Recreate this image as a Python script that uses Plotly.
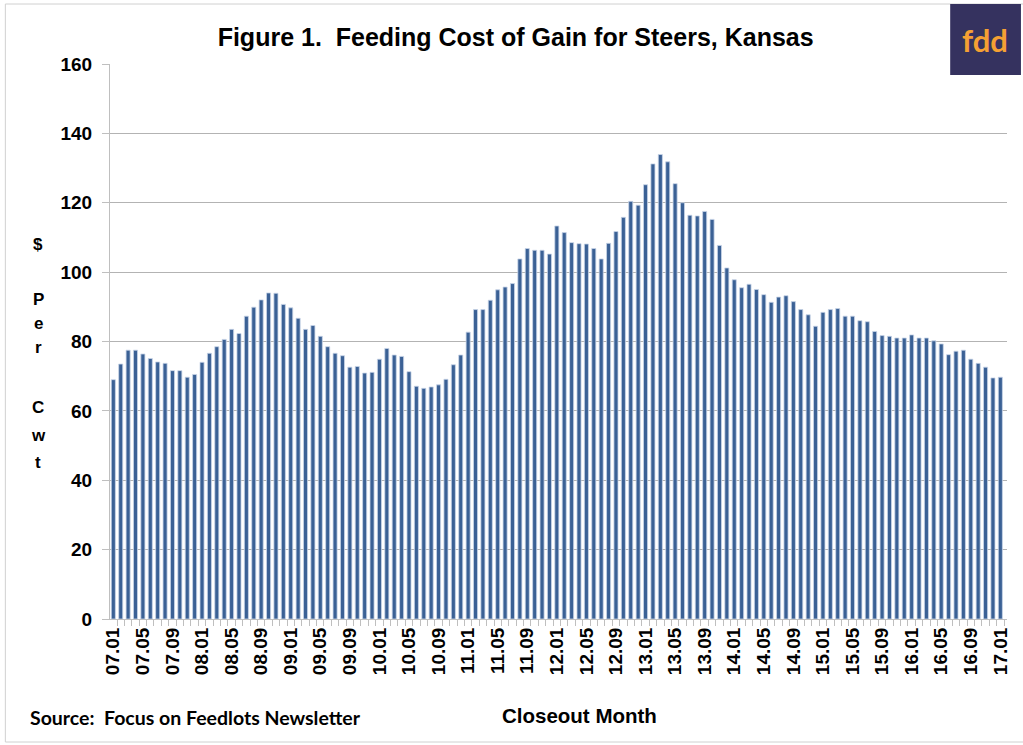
import plotly.graph_objects as go

# Closeout months 07.01 .. 17.01 (monthly)
months = [f"{y:02d}.{m:02d}" for y in range(7, 18) for m in range(1, 13)][:121]

cost_of_gain = [
    69.0, 73.5, 77.5, 77.5, 76.4, 75.1, 74.1, 73.7, 71.6, 71.6, 69.7, 70.5,
    74.0, 76.6, 78.5, 80.6, 83.5, 82.3, 87.3, 89.9, 92.0, 94.0, 93.9, 90.7,
    89.7, 86.7, 83.5, 84.6, 81.5, 78.5, 76.6, 75.9, 72.6, 72.8, 70.9, 71.1,
    74.9, 78.0, 76.1, 75.7, 71.3, 67.1, 66.5, 66.9, 67.5, 69.1, 73.3, 76.1,
    82.7, 89.2, 89.2, 91.9, 94.9, 95.7, 96.7, 103.8, 106.8, 106.3, 106.3, 105.2,
    113.3, 111.4, 108.5, 108.2, 108.1, 106.8, 103.8, 108.3, 111.7, 115.8, 120.4, 119.3,
    125.2, 131.2, 133.9, 131.8, 125.5, 120.0, 116.4, 116.2, 117.5, 115.2, 107.7, 101.2,
    97.8, 95.5, 96.5, 95.0, 93.5, 91.3, 92.8, 93.2, 91.5, 89.2, 87.7, 84.4,
    88.4, 89.2, 89.5, 87.3, 87.3, 86.0, 85.7, 82.9, 81.7, 81.5, 81.0, 81.0,
    81.9, 81.0, 81.0, 80.2, 79.3, 76.2, 77.2, 77.5, 74.9, 73.7, 72.6, 69.5,
    69.7,
]

tick_labels = [m if i % 4 == 0 else "" for i, m in enumerate(months)]
y_ticks = [0, 20, 40, 60, 80, 100, 120, 140, 160]

fig = go.Figure()
fig.add_trace(go.Bar(
    x=months, y=cost_of_gain,
    marker=dict(color="#3b6195", line=dict(color="#c9d6e8", width=0.8)),
    hoverinfo="x+y",
))

L, R, T, B = 110, 13, 64, 126
W, H = 1023, 745
pw, ph = W - L - R, H - T - B

def px_x(x):
    return (x - L) / pw

def px_y(y):
    return (H - B - y) / ph

fig.update_layout(
    width=W, height=H,
    margin=dict(l=L, r=R, t=T, b=B),
    paper_bgcolor="white", plot_bgcolor="white",
    bargap=0.45,
    showlegend=False,
    font=dict(family="Arial, Liberation Sans, sans-serif", color="black"),
    title=dict(
        text="<b>Figure 1.  Feeding Cost of Gain for Steers, Kansas</b>",
        x=px_x(517), xref="paper", xanchor="center",
        y=1 - 37 / H, yanchor="middle",
        font=dict(size=25, color="black"),
    ),
    xaxis=dict(
        type="category",
        tickmode="array", tickvals=months, ticktext=tick_labels,
        tickangle=-90,
        tickfont=dict(size=19, color="black", weight="bold"),
        ticks="outside", ticklen=6, tickcolor="#bfbfbf", tickwidth=1,
        tickson="boundaries",
        showline=True, linecolor="#bfbfbf", linewidth=1,
        showgrid=False,
        range=[-0.45, 120.9],
    ),
    yaxis=dict(
        range=[0, 160], tickvals=y_ticks,
        tickfont=dict(size=19, color="black", weight="bold"),
        showgrid=True, gridcolor="#b3b3b3", gridwidth=1,
        showline=True, linecolor="#bfbfbf", linewidth=1,
        ticks="outside", ticklen=7, tickcolor="#bfbfbf", ticklabelstandoff=6,
        zeroline=False,
    ),
)

# Chart border
fig.add_shape(type="rect", xref="paper", yref="paper",
              x0=px_x(5), x1=px_x(1030), y0=px_y(742), y1=px_y(4),
              line=dict(color="#d0d0d0", width=1), fillcolor="rgba(0,0,0,0)", layer="below")

# Stacked y-axis title
for ch, yy in [("$", 244), ("P", 299), ("e", 323), ("r", 347), ("C", 407), ("w", 435), ("t", 462)]:
    fig.add_annotation(text=f"<b>{ch}</b>", xref="paper", yref="paper",
                       x=px_x(38), y=px_y(yy), showarrow=False,
                       xanchor="center", yanchor="middle",
                       font=dict(size=17, color="black"))

# Axis title and source
fig.add_annotation(text="<b>Closeout Month</b>", xref="paper", yref="paper",
                   x=px_x(581), y=px_y(715), showarrow=False,
                   xanchor="center", yanchor="middle", font=dict(size=20.5, color="black"))
fig.add_annotation(text="<b>Source:  Focus on Feedlots Newsletter</b>", xref="paper", yref="paper",
                   x=px_x(28), y=px_y(717), showarrow=False,
                   xanchor="left", yanchor="middle",
                   font=dict(size=19.5, color="black", family="Lato, Open Sans, sans-serif"))

# fdd logo
fig.add_shape(type="rect", xref="paper", yref="paper",
              x0=px_x(953), x1=px_x(1024), y0=px_y(75), y1=px_y(4),
              line=dict(width=0), fillcolor="#35325f", layer="above")
fig.add_annotation(text="<b>fdd</b>", xref="paper", yref="paper",
                   x=px_x(988), y=px_y(40), showarrow=False,
                   xanchor="center", yanchor="middle",
                   font=dict(size=31, color="#f5a033", family="Lato, Open Sans, sans-serif"))

fig.write_html("out.html", config={"displayModeBar": False},
               post_script="document.body.style.margin='0';")
